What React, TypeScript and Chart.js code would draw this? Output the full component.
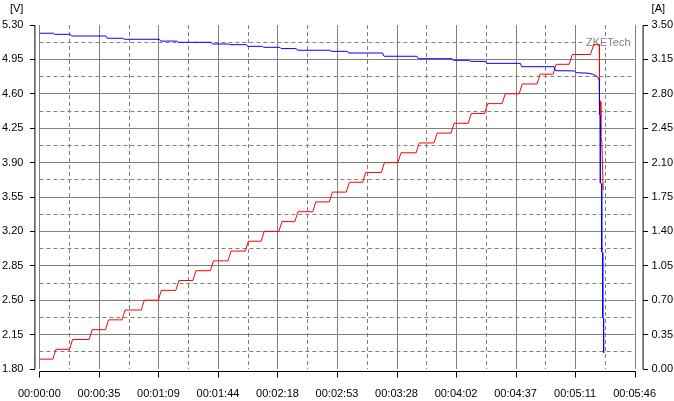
import { useEffect, useRef } from 'react';
import { Chart, registerables } from 'chart.js';

Chart.register(...registerables);

const FONT_FAMILY = '"Liberation Sans", Arial, sans-serif';

// Voltage trace [s] / [V]
const voltTimes = [
  0, 8.2, 8.9, 18.0, 18.8, 38.6, 39.5, 48.5, 49.3, 69.8, 70.5, 79.9, 80.6, 99.9, 100.6,
  110.0, 110.7, 120.3, 121.0, 129.6, 130.3, 139.8, 140.5, 149.3, 150.0, 169.0, 169.7,
  179.0, 179.7, 199.4, 200.3, 219.4, 220.2, 239.9, 240.6, 249.8, 250.5, 259.3, 260.1,
  279.6, 280.4, 299.2, 300.0, 311.0, 312.0, 319.0, 321.5, 323.5, 324.8, 325.5, 325.6,
  326.0, 326.1, 326.8, 326.9, 327.4, 327.5, 327.9, 328.0,
];
const voltValues = [
  5.216, 5.216, 5.205, 5.205, 5.188, 5.188, 5.165, 5.165, 5.155, 5.155, 5.136, 5.136, 5.124, 5.124, 5.107,
  5.107, 5.100, 5.100, 5.083, 5.083, 5.073, 5.073, 5.060, 5.060, 5.043, 5.043, 5.032,
  5.032, 5.015, 5.015, 4.982, 4.982, 4.957, 4.957, 4.941, 4.941, 4.931, 4.929, 4.910,
  4.910, 4.876, 4.876, 4.835, 4.833, 4.815, 4.810, 4.800, 4.785, 4.765, 4.740, 4.384,
  4.380, 3.692, 3.685, 2.990, 2.985, 2.329, 2.320, 1.963,
];

// Current trace [s] / [A]
const currTimes = [
  0, 7.8, 9.6, 17.5, 19.3, 28.9, 30.7, 38.4, 40.2, 48.0, 49.8, 59.2, 61.0, 69.1, 70.9,
  79.3, 81.1, 89.2, 91.0, 99.4, 101.2, 109.6, 111.4, 119.7, 121.5, 128.9, 130.7, 139.2,
  141.0, 148.5, 150.3, 158.9, 160.7, 168.5, 170.3, 178.4, 180.2, 187.9, 189.7, 198.8,
  200.6, 208.4, 210.2, 219.0, 220.8, 229.4, 231.2, 239.3, 241.1, 249.3, 251.1, 258.8,
  260.6, 269.0, 270.8, 278.9, 280.7, 289.3, 291.1, 298.6, 300.4, 308.0, 309.8, 320.4,
  322.2, 325.5, 325.6, 326.2, 326.4, 327.0, 327.4, 327.8,
];
const currValues = [
  0.1, 0.1, 0.2, 0.2, 0.3, 0.3, 0.4, 0.4, 0.5, 0.5, 0.6, 0.6, 0.7, 0.7, 0.8,
  0.8, 0.9, 0.9, 1.0, 1.0, 1.1, 1.1, 1.2, 1.2, 1.3, 1.3, 1.4, 1.4,
  1.5, 1.5, 1.6, 1.6, 1.7, 1.7, 1.8, 1.8, 1.9, 1.9, 2.0, 2.0,
  2.1, 2.1, 2.2, 2.2, 2.3, 2.3, 2.4, 2.4, 2.5, 2.5, 2.6, 2.6,
  2.7, 2.7, 2.8, 2.8, 2.9, 2.9, 3.0, 3.0, 3.1, 3.1, 3.2, 3.2,
  3.3, 3.3, 2.74, 2.72, 2.37, 2.30, 2.01, 1.82,
];

const xTickSeconds = [0, 34.6, 69.2, 103.8, 138.4, 173, 207.6, 242.2, 276.8, 311.4, 346];
const xTickLabels = [
  '00:00:00', '00:00:35', '00:01:09', '00:01:44', '00:02:18', '00:02:53',
  '00:03:28', '00:04:02', '00:04:37', '00:05:11', '00:05:46',
];
const voltTicks = [1.8, 2.15, 2.5, 2.85, 3.2, 3.55, 3.9, 4.25, 4.6, 4.95, 5.3];
const ampTicks = [0, 0.35, 0.7, 1.05, 1.4, 1.75, 2.1, 2.45, 2.8, 3.15, 3.5];

const voltUnit = '[V]';
const ampUnit = '[A]';
const watermark = 'ZKETech';

const decorPlugin = {
  id: 'decor',
  beforeDatasetsDraw(chart: any) {
    const { ctx, chartArea: a, scales } = chart;
    const xs = scales.x;
    const ys = scales.yV;
    const snapY = (p: number) => Math.floor(p) + 0.5;
    const snapX = (p: number) => Math.round(p) + 0.5;
    ctx.save();
    ctx.lineWidth = 1;
    ctx.strokeStyle = '#808080';
    // horizontal grid
    for (let i = 0; i < voltTicks.length; i++) {
      if (i > 0 && i < voltTicks.length - 1) {
        const p = snapY(ys.getPixelForValue(voltTicks[i]));
        ctx.setLineDash([]);
        ctx.beginPath();
        ctx.moveTo(a.left, p);
        ctx.lineTo(a.right, p);
        ctx.stroke();
      }
      if (i < voltTicks.length - 1) {
        const p = snapY(ys.getPixelForValue((voltTicks[i] + voltTicks[i + 1]) / 2));
        ctx.setLineDash([4, 3]);
        ctx.beginPath();
        ctx.moveTo(a.left, p);
        ctx.lineTo(a.right, p);
        ctx.stroke();
      }
    }
    // vertical grid
    for (let i = 0; i < xTickSeconds.length; i++) {
      const p = snapX(xs.getPixelForValue(xTickSeconds[i]));
      ctx.setLineDash([]);
      ctx.beginPath();
      ctx.moveTo(p, a.top);
      ctx.lineTo(p, a.bottom);
      ctx.stroke();
      if (i < xTickSeconds.length - 1) {
        const m = snapX(xs.getPixelForValue((xTickSeconds[i] + xTickSeconds[i + 1]) / 2));
        ctx.setLineDash([4, 3]);
        ctx.beginPath();
        ctx.moveTo(m, a.top);
        ctx.lineTo(m, a.bottom);
        ctx.stroke();
      }
    }
    ctx.setLineDash([]);
    // watermark
    ctx.font = '11px ' + FONT_FAMILY;
    const w = ctx.measureText(watermark).width;
    const right = a.right - 4;
    const cy = snapY(ys.getPixelForValue((voltTicks[9] + voltTicks[10]) / 2));
    ctx.fillStyle = '#ffffff';
    ctx.fillRect(right - w - 1, cy - 6, w + 2, 11);
    ctx.fillStyle = '#808080';
    ctx.textAlign = 'right';
    ctx.textBaseline = 'middle';
    ctx.fillText(watermark, right, cy);
    ctx.restore();
  },
  afterDraw(chart: any) {
    const { ctx, chartArea: a, scales } = chart;
    const xs = scales.x;
    const ys = scales.yV;
    const ya = scales.yA;
    ctx.save();
    ctx.lineWidth = 1;
    ctx.strokeStyle = '#000000';
    ctx.setLineDash([]);
    const lx = a.left - 4.5;
    const rx = a.right + 8.5;
    const by = a.bottom + 2.5;
    ctx.beginPath();
    ctx.moveTo(lx, a.top);
    ctx.lineTo(lx, a.bottom);
    ctx.moveTo(rx, a.top);
    ctx.lineTo(rx, a.bottom);
    ctx.moveTo(a.left, by);
    ctx.lineTo(a.right + 1, by);
    for (const v of voltTicks) {
      const p = Math.floor(ys.getPixelForValue(v)) + 0.5;
      ctx.moveTo(lx - 5, p);
      ctx.lineTo(lx, p);
    }
    for (const v of ampTicks) {
      const p = Math.floor(ya.getPixelForValue(v)) + 0.5;
      ctx.moveTo(rx, p);
      ctx.lineTo(rx + 5, p);
    }
    for (const v of xTickSeconds) {
      const p = Math.round(xs.getPixelForValue(v)) + 0.5;
      ctx.moveTo(p, by);
      ctx.lineTo(p, by + 6);
    }
    ctx.stroke();
    ctx.font = '11px ' + FONT_FAMILY;
    ctx.fillStyle = '#000000';
    ctx.textBaseline = 'middle';
    ctx.textAlign = 'right';
    ctx.fillText(voltUnit, a.left - 16, 9);
    ctx.textAlign = 'left';
    ctx.fillText(ampUnit, a.right + 17, 9);
    ctx.restore();
  },
};

export default function App() {
  const ref = useRef<HTMLCanvasElement | null>(null);

  useEffect(() => {
    if (!ref.current) return;
    const voltData = voltTimes.map((t, i) => ({ x: t, y: voltValues[i] }));
    const currData = currTimes.map((t, i) => ({ x: t, y: currValues[i] }));
    const tickFont = { family: FONT_FAMILY, size: 11 };
    const chart = new Chart(ref.current, {
      type: 'line',
      data: {
        datasets: [
          {
            label: 'Voltage',
            data: voltData,
            yAxisID: 'yV',
            borderColor: '#0000ff',
            borderWidth: 1,
            pointRadius: 0,
            tension: 0,
            fill: false,
          },
          {
            label: 'Current',
            data: currData,
            yAxisID: 'yA',
            borderColor: '#ff0000',
            borderWidth: 1,
            pointRadius: 0,
            tension: 0,
            fill: false,
          },
        ],
      },
      options: {
        animation: false,
        responsive: true,
        maintainAspectRatio: false,
        devicePixelRatio: 1,
        layout: { padding: { top: 25, left: 0, right: 0, bottom: 0 } },
        plugins: { legend: { display: false }, tooltip: { enabled: false } },
        events: [],
        scales: {
          x: {
            type: 'linear',
            min: 0,
            max: 346,
            grid: { display: false, drawTicks: false },
            border: { display: false },
            afterBuildTicks: (s: any) => {
              s.ticks = xTickSeconds.map((v) => ({ value: v }));
            },
            afterFit: (s: any) => {
              s.height = 32;
            },
            ticks: {
              autoSkip: false,
              maxRotation: 0,
              minRotation: 0,
              padding: 18,
              color: '#000000',
              font: tickFont,
              callback: (_v: any, i: number) => xTickLabels[i],
            },
          },
          yV: {
            type: 'linear',
            position: 'left',
            min: 1.8,
            max: 5.3,
            grid: { display: false, drawTicks: false },
            border: { display: false },
            afterBuildTicks: (s: any) => {
              s.ticks = voltTicks.map((v) => ({ value: v }));
            },
            afterFit: (s: any) => {
              s.width = 38;
            },
            ticks: {
              padding: 16,
              color: '#000000',
              font: tickFont,
              callback: (v: any) => Number(v).toFixed(2),
            },
          },
          yA: {
            type: 'linear',
            position: 'right',
            min: 0,
            max: 3.5,
            grid: { display: false, drawTicks: false },
            border: { display: false },
            afterBuildTicks: (s: any) => {
              s.ticks = ampTicks.map((v) => ({ value: v }));
            },
            afterFit: (s: any) => {
              s.width = 39;
            },
            ticks: {
              padding: 17,
              color: '#000000',
              font: tickFont,
              callback: (v: any) => Number(v).toFixed(2),
            },
          },
        },
      },
      plugins: [decorPlugin],
    } as any);
    return () => chart.destroy();
  }, []);

  return (
    <div style={{ position: 'fixed', left: 0, top: 0, width: 674, height: 401, background: '#ffffff' }}>
      <canvas ref={ref} style={{ display: 'block' }} />
    </div>
  );
}
